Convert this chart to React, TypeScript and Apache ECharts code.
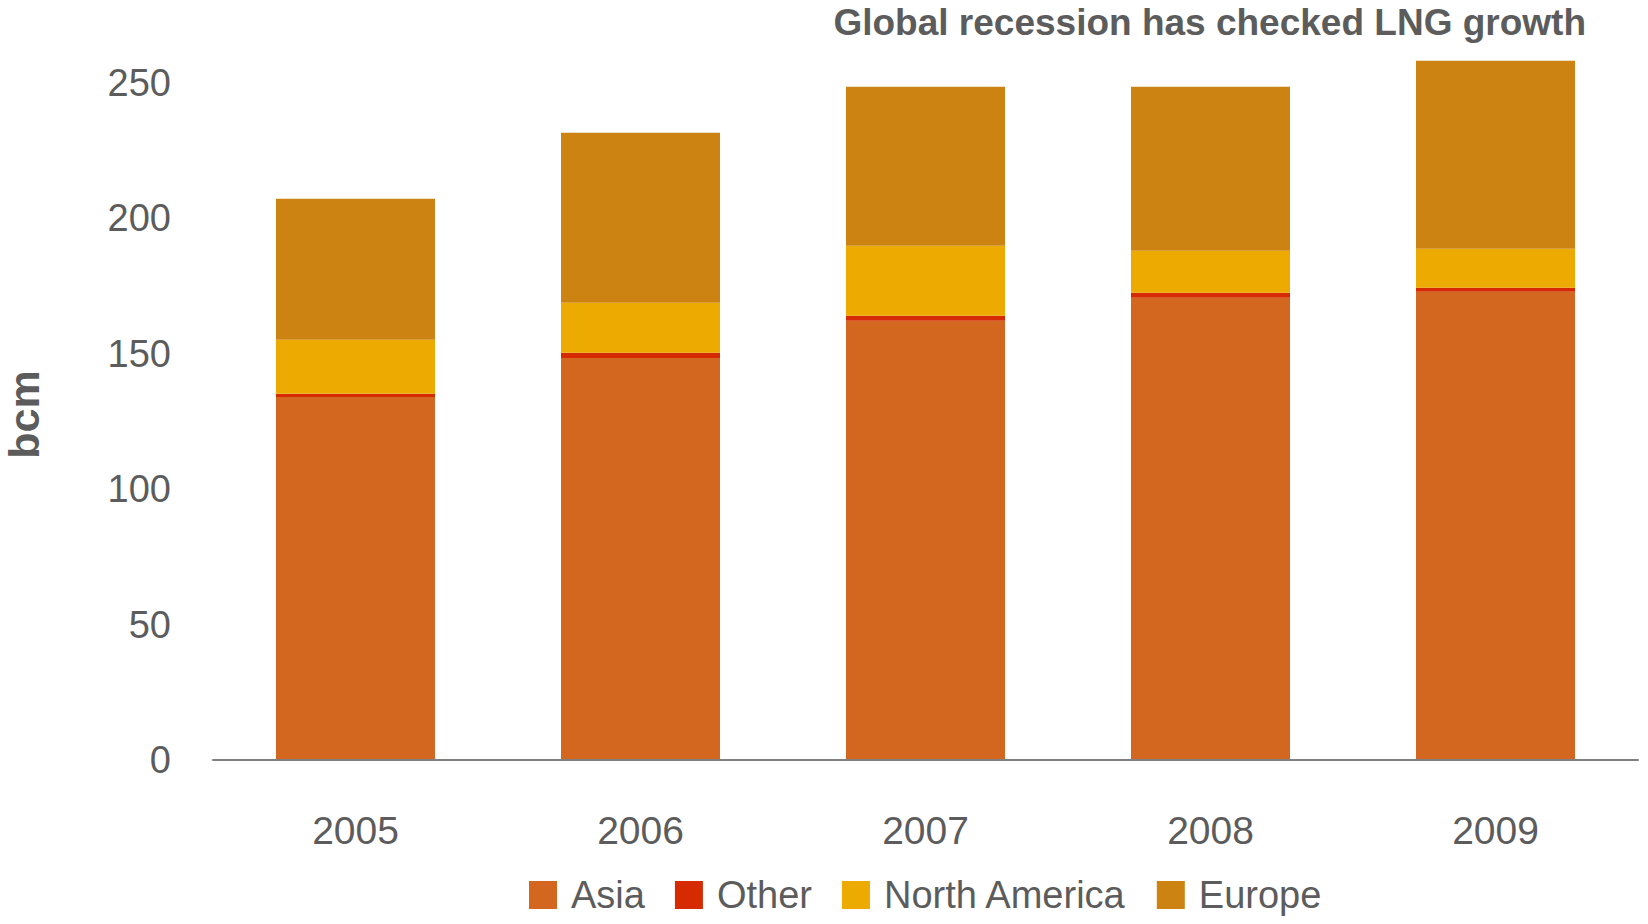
import React, { useEffect, useRef } from "react";
import * as echarts from "echarts";

const years = ["2005", "2006", "2007", "2008", "2009"];
const asia = [134.0, 148.4, 162.1, 170.6, 172.8];
const other = [1.2, 1.9, 1.9, 1.9, 1.5];
const northAmerica = [19.9, 18.5, 25.8, 15.5, 14.4];
const europe = [52.1, 62.7, 58.7, 60.5, 69.4];
const yTicks = [0, 50, 100, 150, 200, 250];

const titleText = "Global recession has checked LNG growth";
const yName = "bcm";

const COLORS = {
  asia: "#D3671F",
  other: "#D62B02",
  na: "#EDAA00",
  europe: "#CC8312",
};
const TEXT = "#5c5c5c";
const FONT = "Liberation Sans, Arial, sans-serif";

export default function App() {
  const ref = useRef<HTMLDivElement>(null);
  useEffect(() => {
    if (!ref.current) return;
    const chart = echarts.init(ref.current, undefined, { renderer: "svg" });
    const mk = (name: string, data: number[], color: string) => ({
      name,
      type: "bar",
      stack: "total",
      data,
      barWidth: 159,
      itemStyle: { color },
      emphasis: { disabled: true },
    });
    chart.setOption({
      animation: false,
      backgroundColor: "#ffffff",
      textStyle: { fontFamily: FONT },
      title: {
        text: titleText,
        right: 62,
        top: 4,
        padding: 0,
        textStyle: {
          fontFamily: FONT,
          fontWeight: "bold",
          fontSize: 37,
          color: TEXT,
        },
      },
      legend: {
        left: 529,
        top: 876,
        padding: 0,
        itemWidth: 28,
        itemHeight: 28,
        itemGap: 30,
        icon: "rect",
        textStyle: {
          fontFamily: FONT,
          fontSize: 38,
          color: TEXT,
          padding: [0, 0, 0, 9],
        },
        data: ["Asia", "Other", "North America", "Europe"],
      },
      grid: {
        left: 213,
        right: 10,
        top: 15,
        bottom: 164,
        containLabel: false,
        outerBoundsMode: "none",
      },
      xAxis: {
        type: "category",
        data: years,
        axisTick: { show: false },
        axisLine: { show: true, lineStyle: { color: "#808080", width: 2 } },
        axisLabel: {
          color: TEXT,
          fontSize: 39,
          margin: 51,
          fontFamily: FONT,
        },
        z: 5,
      },
      yAxis: {
        type: "value",
        min: 0,
        max: 275,
        interval: 50,
        name: yName,
        nameLocation: "middle",
        nameGap: 168,
        nameTextStyle: {
          fontFamily: FONT,
          fontWeight: "bold",
          fontSize: 43,
          color: TEXT,
          padding: [0, 54, 0, 0],
        },
        splitLine: { show: false },
        axisLine: { show: false },
        axisTick: { show: false },
        axisLabel: {
          color: TEXT,
          fontSize: 38,
          margin: 42,
          showMaxLabel: false,
          padding: [4, 0, 0, 0],
          fontFamily: FONT,
          formatter: (v: number) => (yTicks.includes(v) ? String(v) : ""),
        },
      },
      series: [
        mk("Asia", asia, COLORS.asia),
        mk("Other", other, COLORS.other),
        mk("North America", northAmerica, COLORS.na),
        mk("Europe", europe, COLORS.europe),
      ],
    });
    return () => chart.dispose();
  }, []);
  return (
    <div
      ref={ref}
      style={{ position: "absolute", left: 0, top: 0, width: 1648, height: 924 }}
    />
  );
}
